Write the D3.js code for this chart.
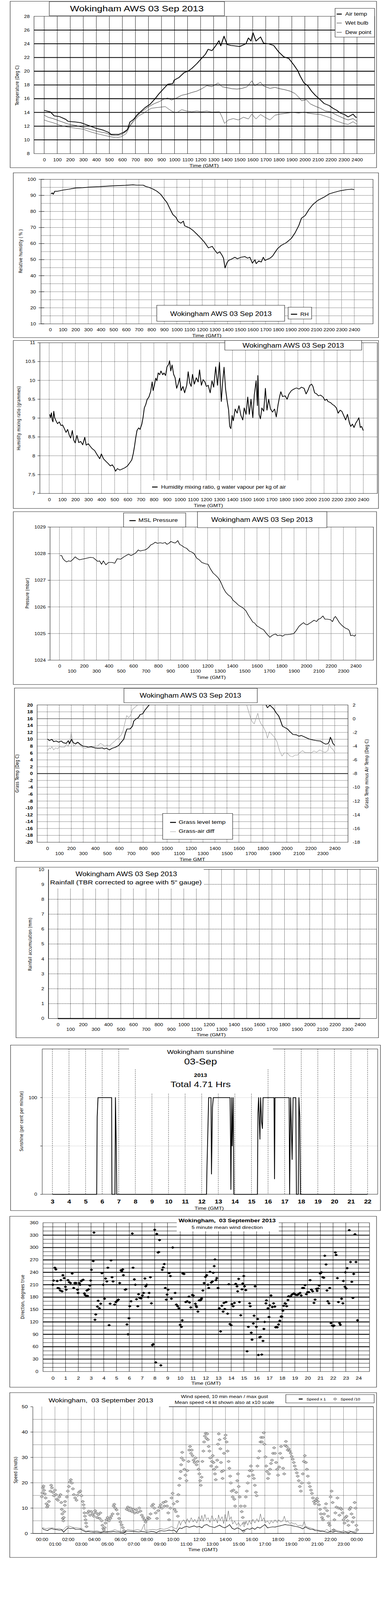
<!DOCTYPE html>
<html>
<head>
<meta charset="utf-8">
<title>Wokingham AWS 03 Sep 2013</title>
<script src="https://cdnjs.cloudflare.com/ajax/libs/d3/7.8.5/d3.min.js"></script>
<style>
html, body { margin: 0; padding: 0; background: #fff; overflow: hidden; }
svg { display: block; }
text { font-family: "Liberation Sans", Arial, sans-serif; fill: #000; }
text.ytitle { font-family: "DejaVu Sans", Verdana, sans-serif; font-size: 12px; }
</style>
</head>
<body>
<svg id="chart"></svg>
<script>
// ---- tick values
var hourHundreds = [0, 100, 200, 300, 400, 500, 600, 700, 800, 900, 1000, 1100, 1200,
    1300, 1400, 1500, 1600, 1700, 1800, 1900, 2000, 2100, 2200, 2300, 2400];
var tempTicks = [8, 10, 12, 14, 16, 18, 20, 22, 24, 26, 28];
var rhTicks = [10, 20, 30, 40, 50, 60, 70, 80, 90, 100];
var rhGrid = [15, 20, 25, 30, 35, 40, 45, 50, 55, 60, 65, 70, 75, 80, 85, 90, 95];
var mixTicks = [7, 7.5, 8, 8.5, 9, 9.5, 10, 10.5, 11];
var pressTicks = [1024, 1025, 1026, 1027, 1028, 1029];
var grassTicks = [-20, -18, -16, -14, -12, -10, -8, -6, -4, -2, 0, 2, 4, 6, 8, 10, 12, 14, 16, 18, 20];
var diffTicks = [-18, -16, -14, -12, -10, -8, -6, -4, -2, 0, 2];
var rainTicks = [0, 1, 2, 3, 4, 5, 6, 7, 8, 9, 10];
var sunHourTicks = [3, 4, 5, 6, 7, 8, 9, 10, 11, 12, 13, 14, 15, 16, 17, 18, 19, 20, 21, 22];
var sunTicks = [0, 50, 100];
var dayHours = [0, 1, 2, 3, 4, 5, 6, 7, 8, 9, 10, 11, 12, 13, 14, 15, 16, 17, 18, 19, 20, 21, 22, 23, 24];
var dirTicks = [0, 30, 60, 90, 120, 150, 180, 210, 240, 270, 300, 330, 360];
var dirMinor = [10, 20, 40, 50, 70, 80, 100, 110, 130, 140, 160, 170, 190, 200, 220, 230, 250, 260, 280, 290, 310, 320, 340, 350];
var speedTicks = [0, 10, 20, 30, 40, 50];
var speedGrid = [5, 10, 15, 20, 25, 30, 35, 40, 45];

// ---- temperatures [time, deg C]
var airTemp = [[0,14.3],[48,14.06],[77,13.5],[116,13.4],[164,13.0],[184,12.7],[242,12.6],[281,12.5],[310,12.3],[339,12.1],
    [397,11.7],[455,11.4],[493,11.1],[513,10.8],[571,10.8],[610,11.1],[639,11.5],[658,12.6],[687,13.0],[716,13.7],[745,14.2],
    [774,14.7],[813,15.2],[851,16.0],[880,16.7],[909,17.3],[948,18.1],[987,18.2],[997,18.7],[1035,19.1],[1074,19.8],[1103,20.0],
    [1132,20.4],[1171,21.1],[1209,21.9],[1238,22.5],[1258,23.2],[1287,23.0],[1316,23.7],[1341,24.45],[1355,23.7],[1380,25.1],
    [1403,23.9],[1432,23.75],[1461,23.7],[1500,23.6],[1548,24.0],[1567,24.85],[1587,24.4],[1602,25.6],[1625,24.4],[1660,25.0],
    [1683,24.1],[1722,24.0],[1761,23.75],[1800,22.8],[1838,22.1],[1877,21.85],[1916,20.9],[1945,20.1],[1964,19.3],[1993,18.3],
    [2022,17.9],[2051,17.1],[2080,16.5],[2109,16.0],[2148,15.3],[2187,15.0],[2216,14.6],[2245,14.3],[2273,13.9],[2303,13.7],
    [2332,13.35],[2370,13.75],[2390,13.3],[2400,13.3]];
var wetBulb = [[0,13.6],[29,13.3],[68,13.1],[126,12.7],[184,12.3],[242,12.1],[300,11.8],[358,11.5],[416,11.2],[474,11.0],
    [513,10.7],[551,10.6],[590,10.75],[629,11.2],[658,12.1],[687,12.9],[716,13.5],[745,14.1],[774,14.45],[803,14.85],[842,15.25],
    [880,15.55],[919,15.95],[948,16.1],[977,15.8],[1016,16.1],[1055,16.5],[1093,16.65],[1132,16.9],[1171,17.1],[1209,17.45],
    [1248,17.9],[1287,17.75],[1335,18.3],[1364,17.75],[1403,17.6],[1442,17.45],[1480,17.4],[1519,17.5],[1558,17.75],[1593,18.6],
    [1616,17.9],[1660,18.4],[1683,17.85],[1732,17.5],[1771,17.65],[1809,17.45],[1848,17.3],[1887,17.1],[1925,16.75],[1954,16.2],
    [1974,15.7],[2012,15.85],[2041,15.25],[2080,14.9],[2119,14.6],[2158,14.2],[2196,14.1],[2235,13.7],[2274,13.35],[2303,13.1],
    [2332,12.9],[2370,13.1],[2400,12.7]];
var dewPoint = [[0,12.9],[29,12.7],[68,12.5],[126,12.1],[184,11.85],[242,11.7],[300,11.55],[358,11.15],[416,10.85],[474,10.6],
    [513,10.45],[551,10.3],[590,10.45],[629,10.9],[658,12.0],[687,12.7],[726,13.5],[764,13.9],[793,14.3],[822,14.6],[861,14.7],
    [909,14.8],[929,14.85],[958,14.45],[987,14.1],[1016,13.95],[1055,14.4],[1093,14.2],[1132,14.1],[1171,14.2],[1209,14.1],
    [1248,14.2],[1287,14.05],[1345,14.1],[1364,13.35],[1384,12.4],[1413,12.9],[1451,13.1],[1490,12.9],[1529,13.3],[1567,13.05],
    [1593,13.75],[1625,13.05],[1660,13.7],[1693,13.3],[1732,12.9],[1771,13.6],[1809,13.75],[1867,13.9],[1906,14.0],[1954,13.9],
    [1993,14.05],[2022,13.9],[2080,13.75],[2119,13.7],[2158,13.45],[2196,13.2],[2235,12.8],[2274,12.55],[2303,12.35],[2332,12.25],
    [2370,12.65],[2400,12.25]];

// ---- relative humidity [time, %]
var relHum = [[6,90.9],[16,91.6],[24,90.7],[36,92.6],[59,92.6],[99,93.3],[149,93.9],[198,94.6],[258,94.8],[317,95.2],[397,95.5],
    [496,96.0],[595,96.3],[654,96.6],[684,96.4],[734,96.4],[754,95.6],[783,94.95],[813,93.9],[843,92.6],[873,90.6],[902,87.5],
    [922,85.5],[942,82.2],[968,78.1],[992,76.4],[1011,73.7],[1031,72.7],[1051,74.0],[1061,71.1],[1081,70.4],[1101,69.7],[1130,68.0],
    [1160,65.7],[1190,63.3],[1220,60.6],[1249,57.3],[1279,58.3],[1299,55.9],[1319,53.9],[1339,54.9],[1358,52.5],[1368,50.9],
    [1380,44.8],[1394,47.8],[1408,49.5],[1428,50.2],[1458,51.5],[1477,50.5],[1507,51.5],[1537,51.9],[1557,50.9],[1576,51.5],
    [1596,47.8],[1616,49.9],[1626,47.5],[1646,49.2],[1666,48.5],[1682,51.5],[1695,49.5],[1715,50.2],[1735,50.9],[1755,52.2],
    [1775,54.6],[1795,56.9],[1824,58.9],[1864,60.6],[1904,63.3],[1933,66.7],[1963,71.4],[1983,75.8],[2013,77.5],[2042,81.2],
    [2072,84.2],[2112,86.9],[2161,88.9],[2201,90.9],[2241,91.9],[2290,92.9],[2340,93.6],[2380,93.9],[2400,93.6]];

// ---- humidity mixing ratio [time, g/kg]
var mixRatio = [[4,9.10],[10,9.01],[17,9.14],[23,8.95],[29,8.90],[35,9.18],[42,9.01],[52,8.93],[64,8.85],[77,8.90],[91,8.80],
    [102,8.82],[116,8.72],[129,8.62],[141,8.70],[154,8.54],[164,8.47],[177,8.67],[187,8.42],[199,8.34],[212,8.54],[226,8.35],
    [241,8.38],[256,8.29],[272,8.49],[283,8.28],[299,8.32],[314,8.25],[328,8.19],[347,8.14],[366,8.03],[386,7.92],[399,8.05],
    [415,7.92],[434,7.85],[449,7.80],[467,7.73],[482,7.76],[496,7.69],[507,7.59],[521,7.66],[540,7.62],[559,7.65],[578,7.68],
    [598,7.73],[617,7.82],[631,7.89],[642,8.05],[652,8.25],[661,8.47],[671,8.67],[684,8.74],[694,8.70],[708,8.84],[717,9.01],
    [727,9.27],[738,9.36],[748,9.49],[762,9.56],[775,9.70],[787,9.96],[794,9.73],[804,9.87],[814,10.06],[823,9.99],[833,10.20],
    [844,10.15],[854,10.25],[868,10.15],[877,10.20],[889,10.13],[900,10.36],[912,10.42],[920,10.52],[929,10.25],[939,10.41],
    [951,10.16],[962,10.07],[974,9.79],[985,9.90],[997,10.06],[1008,9.73],[1022,9.84],[1035,9.67],[1051,9.87],[1062,10.23],
    [1074,9.93],[1085,9.84],[1095,10.16],[1109,9.90],[1124,10.07],[1138,9.96],[1149,10.28],[1163,9.87],[1176,10.02],[1190,9.96],
    [1201,9.84],[1215,9.87],[1230,9.67],[1244,9.99],[1257,9.82],[1272,10.36],[1286,9.87],[1301,10.48],[1315,9.44],[1325,9.93],
    [1336,10.35],[1348,9.76],[1359,9.47],[1371,9.21],[1379,8.78],[1388,8.72],[1398,9.07],[1407,8.93],[1421,9.24],[1436,9.13],
    [1450,9.33],[1465,9.07],[1479,8.95],[1490,9.27],[1504,9.10],[1517,9.56],[1529,9.10],[1542,9.50],[1556,9.01],[1567,9.61],
    [1581,9.99],[1591,9.33],[1594,10.13],[1604,9.10],[1614,8.98],[1625,9.27],[1639,9.18],[1652,9.79],[1664,9.21],[1677,9.50],
    [1691,9.24],[1706,9.16],[1722,9.24],[1735,9.03],[1749,9.36],[1760,9.56],[1770,9.70],[1783,9.57],[1803,9.59],[1818,9.50],
    [1832,9.64],[1851,9.73],[1870,9.77],[1889,9.80],[1909,9.77],[1928,9.82],[1947,9.79],[1963,9.64],[1976,9.73],[1992,9.87],
    [2005,9.90],[2015,9.84],[2028,9.67],[2044,9.64],[2057,9.59],[2073,9.61],[2092,9.56],[2107,9.47],[2121,9.50],[2130,9.44],
    [2150,9.41],[2165,9.36],[2179,9.33],[2194,9.27],[2208,9.13],[2223,9.21],[2236,9.18],[2250,9.07],[2265,8.95],[2279,9.10],
    [2294,8.87],[2304,8.78],[2317,8.84],[2329,8.75],[2343,8.87],[2354,8.93],[2366,9.01],[2377,8.75],[2387,8.78],[2396,8.70],
    [2400,8.67]];

// ---- MSL pressure [time, mbar]
var mslPressure = [[4,1027.93],[18,1027.93],[29,1027.81],[45,1027.73],[59,1027.69],[74,1027.73],[90,1027.71],[106,1027.77],
    [127,1027.88],[141,1027.83],[161,1027.77],[182,1027.79],[202,1027.81],[223,1027.83],[249,1027.86],[274,1027.85],[294,1027.77],
    [311,1027.71],[325,1027.73],[341,1027.60],[356,1027.73],[376,1027.58],[397,1027.67],[427,1027.67],[448,1027.64],[468,1027.81],
    [495,1027.79],[519,1027.87],[540,1027.93],[560,1027.98],[580,1027.93],[601,1027.98],[621,1028.04],[638,1028.14],[654,1028.10],
    [672,1028.12],[693,1028.14],[709,1028.18],[724,1028.24],[740,1028.33],[760,1028.37],[775,1028.43],[795,1028.39],[816,1028.41],
    [836,1028.39],[856,1028.42],[871,1028.35],[887,1028.39],[903,1028.46],[920,1028.42],[938,1028.40],[959,1028.49],[973,1028.35],
    [989,1028.31],[1010,1028.24],[1030,1028.20],[1051,1028.10],[1071,1028.06],[1091,1028.00],[1112,1027.83],[1132,1027.77],
    [1153,1027.67],[1183,1027.62],[1204,1027.60],[1224,1027.42],[1245,1027.27],[1265,1027.19],[1286,1027.09],[1306,1026.94],
    [1327,1026.71],[1347,1026.55],[1367,1026.45],[1388,1026.38],[1408,1026.24],[1429,1026.16],[1449,1026.07],[1470,1026.01],
    [1490,1025.95],[1511,1025.85],[1531,1025.68],[1551,1025.54],[1566,1025.43],[1582,1025.39],[1598,1025.29],[1613,1025.25],
    [1633,1025.19],[1654,1025.14],[1670,1025.04],[1688,1024.94],[1705,1024.86],[1721,1024.92],[1735,1024.96],[1752,1024.98],
    [1766,1024.92],[1786,1024.94],[1807,1024.90],[1827,1024.96],[1848,1024.96],[1868,1024.97],[1899,1025.00],[1919,1025.12],
    [1940,1025.27],[1960,1025.35],[1977,1025.41],[1991,1025.35],[2007,1025.33],[2028,1025.39],[2042,1025.43],[2062,1025.50],
    [2083,1025.45],[2097,1025.54],[2113,1025.56],[2134,1025.66],[2150,1025.54],[2171,1025.54],[2195,1025.52],[2212,1025.45],
    [2226,1025.60],[2236,1025.64],[2253,1025.52],[2267,1025.41],[2287,1025.31],[2308,1025.23],[2322,1025.19],[2338,1025.16],
    [2349,1025.10],[2359,1024.92],[2375,1024.94],[2390,1024.90],[2400,1024.96]];

// ---- grass level temperature [time, deg C] (off the top of the chart around midday)
var grassTemp = [[2,10.1],[17,9.6],[38,10.0],[53,9.3],[74,9.5],[95,9.15],[116,9.5],[133,9.0],[158,8.8],[175,9.6],[185,8.7],
    [202,10.0],[217,9.0],[234,8.7],[255,9.15],[276,8.5],[297,8.0],[322,7.9],[343,7.7],[368,7.8],[396,7.5],[417,7.4],[438,7.4],
    [459,7.5],[474,7.2],[495,7.4],[518,6.9],[543,7.4],[570,7.7],[596,8.2],[617,9.15],[638,10.0],[653,11.9],[665,13.0],[690,13.0],
    [711,13.8],[722,15.3],[743,16.0],[760,16.3],[775,17.2],[796,17.4],[813,18.4],[827,19.0],[848,19.9],[900,22],[1000,26],
    [1200,30],[1400,30],[1600,27],[1750,22],[1827,20.0],[1838,19.2],[1859,19.9],[1869,19.6],[1890,18.9],[1911,17.7],[1932,16.8],
    [1947,15.5],[1964,13.8],[1985,13.4],[2006,13.0],[2027,12.2],[2052,11.4],[2080,11.3],[2101,10.9],[2122,11.1],[2153,10.6],
    [2185,10.1],[2217,9.8],[2248,9.6],[2280,9.5],[2301,9.0],[2323,8.6],[2343,8.7],[2354,9.3],[2364,10.6],[2375,9.8],[2385,8.8],
    [2400,8.2]];
// grass minus air temperature [time, deg C] on the right-hand scale
var grassAirDiff = [[2,-4.65],[17,-4.25],[27,-4.4],[38,-4.08],[53,-4.55],[69,-4.25],[86,-4.4],[101,-4.08],[122,-4.15],[143,-4.15],
    [158,-3.75],[175,-4.0],[187,-3.35],[200,-2.05],[211,-3.43],[221,-4.0],[238,-3.75],[255,-3.5],[269,-3.75],[284,-4.08],[301,-4.25],
    [322,-4.3],[343,-4.15],[368,-4.0],[389,-4.08],[417,-4.0],[444,-3.6],[459,-3.75],[480,-4.0],[501,-3.83],[518,-4.0],[537,-3.65],
    [558,-3.35],[579,-3.0],[600,-2.7],[617,-2.38],[632,-1.8],[648,-0.6],[663,0.45],[680,0.15],[697,0.55],[711,1.35],[733,1.68],
    [754,2.0],[800,3.5],[1200,5],[1600,3.5],[1665,2.0],[1680,1.1],[1697,0.15],[1711,-0.45],[1728,-0.75],[1743,0.05],[1758,0.8],
    [1770,-0.2],[1785,-0.75],[1806,-1.25],[1827,-2.05],[1838,-2.85],[1855,-1.9],[1876,-2.3],[1897,-2.7],[1918,-3.35],[1939,-4.65],
    [1960,-5.45],[1981,-4.95],[2006,-5.05],[2027,-5.45],[2048,-5.55],[2069,-5.3],[2090,-5.3],[2111,-4.9],[2132,-4.65],[2153,-4.95],
    [2175,-4.95],[2206,-4.95],[2227,-4.7],[2248,-4.9],[2275,-4.55],[2301,-4.8],[2322,-4.9],[2343,-4.65],[2354,-3.65],[2364,-4.15],
    [2385,-4.48],[2400,-4.95]];

// ---- rainfall accumulation [time, mm]
var rainfall = [[0,0],[2400,0]];

// ---- sunshine [hour, per cent per minute]
var sunshine = [[3.0,0],[5.67,0],[5.70,80],[5.75,100],[6.57,100],[6.59,0],[6.77,0],[6.80,100],[6.85,50],[6.88,0],[12.29,0],
    [12.32,29],[12.36,57],[12.42,100],[12.56,100],[12.59,21],[12.65,90],[12.70,100],[13.71,100],[13.74,55],[13.76,5],[13.81,100],
    [13.84,50],[13.90,100],[13.94,0],[15.36,0],[15.39,84],[15.43,100],[15.51,57],[15.55,100],[15.61,75],[15.66,68],[15.70,100],
    [16.36,100],[16.39,16],[16.42,100],[17.27,100],[17.30,0],[17.36,100],[17.45,36],[17.51,100],[17.67,100],[17.71,0],[17.82,0],
    [17.86,100],[17.91,80],[17.95,0],[22.0,0]];

// ---- 5 minute mean wind direction [hour, degrees]
var windDir = [[0.00,210],[0.06,220],[0.16,251],[0.24,247],[0.34,219],[0.40,202],[0.50,201],[0.59,196],[0.63,221],[0.73,194],
    [0.79,233],[0.89,226],[0.99,205],[1.05,198],[1.19,221],[1.29,216],[1.39,214],[1.52,237],[1.64,202],[1.72,214],[1.82,214],
    [1.94,198],[1.98,190],[2.08,214],[2.14,210],[2.22,219],[2.28,220],[2.38,222],[2.48,189],[2.53,185],[2.63,183],[2.73,183],
    [2.67,196],[2.77,198],[2.81,199],[2.91,208],[2.97,220],[3.03,246],[3.17,267],[3.23,336],[3.31,125],[3.37,138],[3.50,157],
    [3.56,171],[3.66,153],[3.76,164],[3.86,238],[3.96,210],[4.06,176],[4.14,225],[4.24,218],[4.32,251],[4.42,112],[4.50,164],
    [4.57,269],[4.65,228],[4.73,218],[4.85,162],[4.95,168],[5.05,171],[5.15,174],[5.25,214],[5.35,245],[5.41,243],[5.49,247],
    [5.54,233],[5.68,198],[5.74,199],[5.82,114],[5.90,90],[5.98,129],[6.04,158],[6.14,170],[6.24,334],[6.30,251],[6.40,223],
    [6.48,210],[6.57,175],[6.67,158],[6.73,187],[6.83,178],[6.93,177],[7.03,184],[7.13,190],[7.23,225],[7.29,206],[7.37,210],
    [7.49,180],[7.56,190],[7.66,228],[7.74,165],[7.82,64],[7.88,66],[8.00,343],[8.08,22],[8.16,333],[8.26,288],[8.32,289],
    [8.38,318],[8.48,15],[8.59,246],[8.67,252],[8.75,260],[8.83,202],[8.91,174],[8.97,186],[9.05,198],[9.13,238],[9.23,231],
    [9.31,176],[9.41,300],[9.60,190],[9.70,162],[9.80,158],[9.90,153],[10.0,113],[10.1,108],[10.16,124],[10.2,237],[10.3,236],
    [10.44,168],[10.55,170],[10.69,181],[10.73,167],[10.83,155],[10.95,185],[11.03,184],[11.19,164],[11.25,159],[11.29,156],
    [11.39,145],[11.49,172],[11.58,172],[11.64,174],[11.68,177],[11.78,196],[11.88,214],[11.98,229],[12.08,233],[12.18,210],
    [12.24,202],[12.34,241],[12.44,215],[12.53,218],[12.59,239],[12.67,255],[12.73,271],[12.81,221],[12.87,226],[12.97,202],
    [13.07,153],[13.17,97],[13.27,159],[13.37,145],[13.43,166],[13.50,151],[13.60,168],[13.72,140],[13.82,211],[13.90,115],
    [14.0,112],[14.06,163],[14.16,158],[14.26,166],[14.36,212],[14.46,206],[14.51,194],[14.59,224],[14.65,168],[14.75,136],
    [14.85,199],[14.91,213],[14.99,231],[15.05,206],[15.15,197],[15.25,49],[15.35,108],[15.45,165],[15.50,158],[15.58,94],
    [15.64,77],[15.74,116],[15.80,135],[15.88,206],[15.98,108],[16.08,127],[16.14,40],[16.24,83],[16.30,84],[16.40,41],[16.50,74],
    [16.57,103],[16.63,120],[16.73,165],[16.77,172],[16.89,153],[16.97,132],[17.03,160],[17.13,184],[17.23,156],[17.33,165],
    [17.43,157],[17.49,107],[17.56,108],[17.62,107],[17.72,114],[17.82,123],[17.92,133],[17.98,133],[18.06,147],[18.12,159],
    [18.22,165],[18.28,164],[18.36,158],[18.46,173],[18.51,182],[18.61,181],[18.67,182],[18.77,186],[18.91,189],[19.01,187],
    [19.11,185],[19.21,185],[19.31,188],[19.41,190],[19.50,184],[19.60,202],[19.70,202],[19.80,209],[19.90,187],[20.00,192],
    [20.10,192],[20.20,221],[20.30,198],[20.40,194],[20.50,166],[20.59,174],[20.69,200],[20.75,195],[20.83,201],[20.91,208],
    [20.99,237],[21.09,240],[21.19,228],[21.27,227],[21.35,280],[21.45,259],[21.52,196],[21.58,170],[21.68,165],[21.74,202],
    [21.84,117],[21.94,111],[22.02,110],[22.08,111],[22.18,288],[22.24,282],[22.34,226],[22.42,168],[22.51,117],[22.57,113],
    [22.67,176],[22.77,165],[22.81,219],[22.93,205],[22.97,240],[23.03,201],[23.11,250],[23.27,342],[23.37,265],[23.47,217],
    [23.56,178],[23.62,236],[23.72,332],[23.80,265],[23.92,124]];

// ---- wind speed: diamonds on the /10 scale, mean and gust lines in knots [hour, value]
var speedMarks = [[0.00,14.5],[0.04,16],[0.08,18],[0.12,18.7],[0.17,17],[0.23,15.6],[0.29,14],[0.35,11.7],[0.40,10.4],[0.46,11],
    [0.54,12.6],[0.65,16.7],[0.71,19],[0.77,18],[0.85,16.2],[0.92,14.9],[1.00,17.1],[1.08,15.3],[1.15,13.5],[1.23,13.1],[1.33,14.4],
    [1.42,15.3],[1.48,12.2],[1.52,9.5],[1.56,7.7],[1.60,5.9],[1.64,5],[1.67,6.3],[1.71,8.6],[1.75,11.1],[1.77,12.6],[1.91,14.4],
    [1.98,16.7],[2.06,18.5],[2.14,20.3],[2.21,21.2],[2.29,19.9],[2.37,17.6],[2.44,15.3],[2.54,14],[2.64,13.1],[2.73,15.1],[2.83,16.2],
    [2.93,16.7],[3.02,14.9],[3.12,12.6],[3.18,11.3],[3.21,10],[3.25,8.1],[3.29,6.8],[3.33,5.4],[3.37,4.1],[3.41,2.7],[3.50,8.1],
    [3.58,8.8],[3.68,7.2],[3.77,8.6],[3.89,7.7],[3.96,6.8],[4.06,9],[4.14,8.1],[4.21,6.3],[4.31,7.4],[4.41,5.9],[4.46,8.1],[4.56,5],
    [4.62,3.2],[4.68,2],[4.73,1.4],[4.79,2.3],[4.85,4.1],[4.93,5.4],[5.02,6.3],[5.12,5],[5.22,5.9],[5.29,6.8],[5.39,7.7],[5.47,10.8],
    [5.52,11.5],[5.60,10],[5.70,9.3],[5.79,7.7],[5.89,5.9],[5.99,4.5],[6.08,3.4],[6.18,2.3],[6.27,1.1],[6.35,0],[6.47,9.5],[6.56,10.4],
    [6.66,9],[6.77,10],[6.87,8.6],[6.97,9.5],[7.08,8.1],[7.20,9.3],[7.31,8.3],[7.43,10],[7.52,8.8],[7.62,7.2],[7.72,6.3],[7.81,5.4],
    [7.91,4.5],[8.01,5.4],[8.10,6.3],[8.20,5.9],[8.29,7.7],[8.39,10.8],[8.49,11.5],[8.58,10],[8.68,8.1],[8.78,5.9],[8.87,9],[8.97,10.4],
    [9.06,11.3],[9.16,10],[9.26,12.2],[9.35,10.8],[9.45,12.6],[9.55,10.8],[9.64,8.1],[9.70,5.4],[9.80,10],[9.89,14],[9.97,15.8],
    [10.05,11.7],[10.12,9.5],[10.22,8.6],[10.32,12.6],[10.37,6.8],[10.41,15.3],[10.47,19],[10.53,21.7],[10.59,24.4],[10.62,27.1],
    [10.66,29.8],[10.70,32],[10.80,28.9],[10.87,25.3],[10.95,23],[11.03,20.8],[11.10,24.8],[11.18,28.4],[11.24,32.9],[11.30,34.3],
    [11.37,31.6],[11.43,32.9],[11.49,30.7],[11.57,28.9],[11.64,28],[11.72,29.8],[11.80,27.1],[11.87,28.4],[11.95,25.3],[12.01,23.5],
    [12.07,20.8],[12.12,19],[12.18,22.2],[12.24,28.4],[12.32,32.5],[12.37,36.1],[12.43,38.4],[12.49,39.5],[12.55,37.5],[12.61,39.3],
    [12.66,37],[12.72,34.3],[12.78,32.5],[12.84,29.8],[12.91,26.6],[12.97,28.4],[13.03,30.7],[13.09,28],[13.14,25.3],[13.20,23.5],
    [13.26,21.2],[13.32,26.2],[13.37,28.9],[13.43,35.2],[13.49,39.3],[13.55,37],[13.61,33.4],[13.66,28],[13.72,24.4],[13.78,21.7],
    [13.84,24.8],[13.89,31.6],[13.95,37.5],[14.01,38.8],[14.09,36.1],[14.16,32.5],[14.24,28.4],[14.30,25.7],[14.36,22.6],[14.41,19.9],
    [14.47,16.7],[14.55,14.4],[14.61,17.1],[14.67,13.5],[14.74,10.8],[14.82,16.2],[14.90,20.8],[14.95,23.5],[15.01,18.5],[15.09,14.4],
    [15.17,10.8],[15.24,8.6],[15.32,6.3],[15.38,0.9],[15.42,4.1],[15.47,10.8],[15.55,14.4],[15.63,16.7],[15.70,19.9],[15.78,22.6],
    [15.86,24.8],[15.94,26.6],[16.01,24.8],[16.09,23],[16.17,21.7],[16.24,19],[16.32,16.2],[16.38,14.9],[16.44,26.6],[16.51,29.8],
    [16.59,32.5],[16.67,36.1],[16.72,37.9],[16.78,36.1],[16.86,37.9],[16.92,39.7],[16.97,35.2],[17.05,30.2],[17.11,26.6],[17.17,24.4],
    [17.24,21.7],[17.32,23.5],[17.40,25.3],[17.47,27.6],[17.55,28.9],[17.63,31.6],[17.71,33.8],[17.78,31.6],[17.86,28],[17.94,25.3],
    [18.01,23],[18.09,26.2],[18.17,31.6],[18.24,34.3],[18.32,29.8],[18.40,25.7],[18.48,23.5],[18.55,34.7],[18.61,36.3],[18.67,34.3],
    [18.75,32.9],[18.82,33.4],[18.90,32.5],[18.98,31.6],[19.05,30.4],[19.13,29.3],[19.21,28],[19.28,26.6],[19.36,25.3],[19.44,23.9],
    [19.51,22.6],[19.59,20.8],[19.67,18.5],[19.75,16.7],[19.82,19.9],[19.90,23.5],[19.98,28.4],[20.05,30.7],[20.13,28],[20.21,25.3],
    [20.28,22.6],[20.36,19.9],[20.44,18.5],[20.52,17.1],[20.59,15.8],[20.67,14],[20.75,12.6],[20.82,11.7],[20.90,13.1],[20.98,13.8],
    [21.05,12.6],[21.13,11.3],[21.21,9.5],[21.28,7.7],[21.36,6.3],[21.44,5.4],[21.52,7.7],[21.59,10],[21.67,11.7],[21.75,9],[21.82,6.8],
    [21.88,4.1],[21.94,3.2],[22.02,14.4],[22.09,16.7],[22.17,12.2],[22.25,1.4],[22.31,5.4],[22.38,8.1],[22.46,10.4],[22.54,14],
    [22.61,10],[22.69,7.2],[22.77,10],[22.84,9.5],[22.92,8.1],[23.00,5.4],[23.08,4.1],[23.15,6.3],[23.23,6.8],[23.31,5],[23.38,3.2],
    [23.46,9.5],[23.54,10.2],[23.61,7.7],[23.69,4.5],[23.77,6.3],[23.85,12.2],[23.92,10],[23.98,3.2],[24.04,1.4]];
var speedMean = [[0.04,2.1],[0.12,1.6],[0.27,1.4],[0.42,1.1],[0.56,1.6],[0.75,1.9],[0.94,1.6],[1.14,1.5],[1.33,1.35],[1.52,1.4],
    [1.66,0.5],[1.81,1.35],[2.00,2.2],[2.19,1.9],[2.39,2.1],[2.58,1.6],[2.77,1.6],[2.96,1.7],[3.16,1.1],[3.35,0.6],[3.54,0.8],
    [3.73,0.6],[3.93,0.5],[4.12,0.6],[4.31,0.5],[4.50,0.3],[4.70,0.6],[4.89,0.5],[5.08,0.6],[5.27,0.6],[5.47,0.8],[5.66,0.6],
    [5.85,0.6],[6.04,0.4],[6.24,0.2],[6.43,0.9],[6.62,0.9],[6.81,0.8],[7.01,0.8],[7.20,0.7],[7.39,0.6],[7.58,0.8],[7.78,0.7],
    [7.97,0.5],[8.16,0.6],[8.35,0.8],[8.55,0.7],[8.74,0.3],[8.93,0.9],[9.12,1.1],[9.31,0.9],[9.51,1.05],[9.70,1.35],[9.89,1.1],
    [10.08,1.35],[10.28,0.4],[10.37,1.35],[10.51,2.2],[10.66,1.9],[10.85,2.5],[11.05,2.8],[11.24,2.4],[11.43,2.7],[11.62,3.0],
    [11.82,2.5],[12.01,2.8],[12.20,2.2],[12.39,3.25],[12.59,3.5],[12.78,2.8],[12.97,2.6],[13.16,2.3],[13.36,2.8],[13.55,3.3],
    [13.74,2.6],[13.93,2.2],[14.13,2.7],[14.32,3.5],[14.51,2.0],[14.70,1.6],[14.90,2.2],[15.09,1.8],[15.28,1.1],[15.47,1.35],
    [15.67,1.9],[15.86,1.6],[16.05,2.2],[16.24,1.6],[16.44,2.5],[16.63,2.1],[16.82,2.8],[17.01,3.5],[17.21,2.2],[17.40,2.4],
    [17.59,2.6],[17.78,2.5],[17.98,2.8],[18.17,3.0],[18.36,3.25],[18.55,3.5],[18.75,3.3],[18.94,3.25],[19.13,3.0],[19.32,2.8],
    [19.51,2.6],[19.71,2.3],[19.90,1.8],[20.09,2.6],[20.28,2.0],[20.48,1.6],[20.67,1.6],[20.86,1.1],[21.05,1.05],[21.25,0.8],
    [21.44,0.9],[21.63,0.6],[21.82,0.4],[22.02,0.8],[22.21,0.5],[22.40,0.9],[22.59,0.6],[22.79,0.5],[22.98,0.4],[23.17,0.6],
    [23.36,0.2],[23.56,0.8],[23.75,0.4],[23.94,0.2]];
var speedGust = [[0.04,2.3],[0.27,1.9],[0.56,2.1],[0.85,2.2],[1.04,1.8],[1.33,2.0],[1.62,1.35],[1.85,2.6],[2.10,2.9],[2.29,2.5],
    [2.48,2.3],[2.77,2.1],[3.06,2.0],[3.35,0.9],[3.64,1.1],[3.93,0.9],[4.21,1.05],[4.50,0.6],[4.79,0.9],[5.08,0.8],[5.37,1.1],
    [5.56,1.5],[5.75,1.1],[6.04,0.8],[6.33,0.5],[6.52,1.6],[6.72,1.35],[7.01,1.2],[7.29,1.5],[7.58,1.1],[7.81,3.7],[7.87,1.2],
    [8.16,1.35],[8.45,1.6],[8.74,1.35],[9.03,1.9],[9.31,1.6],[9.60,2.0],[9.89,2.8],[10.08,2.1],[10.28,1.8],[10.47,4.9],[10.57,3.25],
    [10.66,4.5],[10.82,5.4],[10.95,3.9],[11.09,5.8],[11.24,4.3],[11.39,6.2],[11.53,4.5],[11.66,5.6],[11.82,4.1],[11.97,6.6],
    [12.11,4.9],[12.20,7.1],[12.30,4.7],[12.43,7.5],[12.55,5.4],[12.68,6.2],[12.82,4.3],[12.97,7.0],[13.13,4.9],[13.26,6.0],
    [13.39,4.1],[13.47,7.3],[13.59,5.1],[13.74,6.6],[13.86,3.9],[13.97,7.5],[14.09,4.7],[14.22,8.9],[14.32,5.4],[14.43,6.6],
    [14.55,3.7],[14.70,4.9],[14.86,3.25],[14.99,4.3],[15.13,2.8],[15.28,3.9],[15.43,2.6],[15.57,4.9],[15.70,3.25],[15.82,5.1],
    [15.95,3.7],[16.09,5.6],[16.24,4.1],[16.40,5.8],[16.53,4.5],[16.67,7.7],[16.78,4.9],[16.92,6.2],[17.05,4.3],[17.21,4.9],
    [17.36,3.7],[17.49,5.1],[17.63,4.1],[17.78,5.4],[17.94,4.3],[18.07,5.4],[18.21,4.5],[18.36,4.9],[18.49,6.8],[18.61,4.5],
    [18.75,4.9],[18.90,3.9],[19.03,4.3],[19.23,3.7],[19.36,3.9],[19.51,3.0],[19.71,3.25],[19.86,2.8],[20.00,4.7],[20.13,2.8],
    [20.32,2.4],[20.57,2.0],[20.82,1.6],[21.05,1.35],[21.29,1.1],[21.54,0.9],[21.73,1.6],[21.92,0.8],[22.11,1.35],[22.36,1.35],
    [22.59,1.05],[22.83,0.7],[23.02,1.1],[23.21,0.6],[23.46,1.1],[23.65,0.6],[23.90,0.9],[23.98,0.4]];

// ------------------------------------------------------------------
// The drawing is laid out on a 1000 x 5000 canvas and squeezed into whatever height the window really has.
var viewH = window.innerHeight > 0 ? Math.min(window.innerHeight, 5000) : 5000;
var svg = d3.select('#chart').attr('width', 1000).attr('height', viewH)
    .attr('viewBox', '0 0 1000 5000').attr('preserveAspectRatio', 'none');
var DIAMOND = 'M0,-4L4.5,0L0,4L-4.5,0Z';

function box(x0, y0, x1, y1, sw) {
    return svg.append('rect').attr('x', x0).attr('y', y0).attr('width', x1 - x0).attr('height', y1 - y0)
        .attr('fill', '#fff').attr('stroke', sw === 0 ? 'none' : '#000').attr('stroke-width', sw || 1);
}
function seg(x0, y0, x1, y1, sw) {
    svg.append('line').attr('x1', x0).attr('y1', y0).attr('x2', x1).attr('y2', y1)
        .attr('stroke', '#000').attr('stroke-width', sw || 1);
}
function label(x, y, txt, size, anchor, weight) {
    return svg.append('text').attr('x', x).attr('y', y).attr('font-size', size)
        .attr('text-anchor', anchor || 'middle').attr('font-weight', weight || 'normal').text(txt);
}
function yTitle(x, cy, txt) {
    svg.append('text').attr('class', 'ytitle').attr('transform', 'translate(' + x + ',' + cy + ') rotate(-90)')
        .attr('text-anchor', 'middle').attr('dy', '0.35em').text(txt);
}
function hGrid(x, y, vals, sw, dash, color) {
    svg.append('g').selectAll('line').data(vals).join('line')
        .attr('x1', x.range()[0]).attr('x2', x.range()[1])
        .attr('y1', function (d) { return y(d); }).attr('y2', function (d) { return y(d); })
        .attr('stroke', color || '#000').attr('stroke-width', sw).attr('stroke-dasharray', dash || null);
}
function vGrid(x, y, vals, sw, dash, color, top) {
    svg.append('g').selectAll('line').data(vals).join('line')
        .attr('x1', function (d) { return x(d); }).attr('x2', function (d) { return x(d); })
        .attr('y1', function (d) { return top ? top(d) : y.range()[1]; }).attr('y2', y.range()[0])
        .attr('stroke', color || '#000').attr('stroke-width', sw).attr('stroke-dasharray', dash || null);
}
function yTicks(x0, y, vals, out, inside) {
    svg.append('g').selectAll('line').data(vals).join('line')
        .attr('x1', x0 - out).attr('x2', x0 + (inside || 0))
        .attr('y1', function (d) { return y(d); }).attr('y2', function (d) { return y(d); })
        .attr('stroke', '#000');
}
function leftAxis(x0, y, vals, pad, opts) {
    opts = opts || {};
    var ax = d3.axisLeft(y).tickValues(vals).tickSize(0).tickPadding(pad)
        .tickFormat(opts.fmt || function (d) { return d; });
    var g = svg.append('g').attr('transform', 'translate(' + x0 + ',0)').call(ax);
    g.select('.domain').remove();
    g.attr('font-size', opts.size || 13).attr('font-weight', opts.weight || null);
    return g;
}
function rightAxis(x0, y, vals, pad) {
    var g = svg.append('g').attr('transform', 'translate(' + x0 + ',0)')
        .call(d3.axisRight(y).tickValues(vals).tickSize(0).tickPadding(pad).tickFormat(function (d) { return d; }));
    g.select('.domain').remove();
    g.attr('font-size', 13);
    return g;
}
function bottomAxis(y0, x, vals, pad, opts) {
    opts = opts || {};
    var ax = d3.axisBottom(x).tickValues(vals).tickSize(0).tickPadding(pad)
        .tickFormat(opts.fmt || function (d) { return d; });
    var g = svg.append('g').attr('transform', 'translate(0,' + y0 + ')').call(ax);
    g.select('.domain').remove();
    g.attr('font-size', opts.size || 13).attr('font-weight', opts.weight || null);
    if (opts.stagger) {
        g.selectAll('.tick text').attr('y', function (d, i) { return i % 2 ? pad + opts.stagger : pad; });
    }
    return g;
}
function series(x, y, data, color, width, clip) {
    var line = d3.line().x(function (d) { return x(d[0]); }).y(function (d) { return y(d[1]); });
    var p = svg.append('path').datum(data).attr('d', line).attr('fill', 'none')
        .attr('stroke', color).attr('stroke-width', width).attr('stroke-linejoin', 'round');
    if (clip) p.attr('clip-path', 'url(#' + clip + ')');
    return p;
}
function legendLine(x0, x1, yy, color, width) {
    svg.append('line').attr('x1', x0).attr('x2', x1).attr('y1', yy).attr('y2', yy)
        .attr('stroke', color).attr('stroke-width', width);
}

svg.append('rect').attr('width', 1000).attr('height', 5000).attr('fill', '#fff');

// ---- 1. Temperature
(function () {
    box(26, 4, 963, 524);
    var x = d3.scaleLinear().domain([-78, 2535]).range([87, 958]);
    var y = d3.scaleLinear().domain([8, 28]).range([480, 51]);
    box(87, 51, 958, 480);
    vGrid(x, y, hourHundreds, 1);
    hGrid(x, y, [10, 12, 14, 16, 18, 20, 22, 24, 26], 2.5);
    leftAxis(87, y, tempTicks, 11);
    bottomAxis(480, x, hourHundreds, 14.5);
    series(x, y, dewPoint, '#222', 1);
    series(x, y, wetBulb, '#000', 1);
    series(x, y, airTemp, '#000', 2.2);
    box(126, 5, 574, 49);
    label(350, 36, 'Wokingham AWS 03 Sep 2013', 25);
    box(857, 26, 958, 116);
    legendLine(861, 874, 44, '#000', 3);
    legendLine(861, 874, 72, '#000', 1);
    legendLine(861, 874, 101, '#000', 1);
    label(883, 49, 'Air temp', 15, 'start');
    label(883, 77, 'Wet bulb', 15, 'start');
    label(883, 106, 'Dew point', 15, 'start');
    label(522, 522, 'Time (GMT)', 14);
    yTitle(44, 267, 'Temperature (Deg C)');
})();

// ---- 2. Relative humidity
(function () {
    box(34, 540, 968, 1055);
    var x = d3.scaleLinear().domain([-72, 2548]).range([105, 954]);
    var y = d3.scaleLinear().domain([10, 100]).range([1012, 560.5]);
    box(105, 560.5, 954, 1012);
    vGrid(x, y, hourHundreds, 1, '1,1');
    hGrid(x, y, rhGrid, 1, '1,1');
    yTicks(105, y, rhTicks, 6, 8);
    leftAxis(105, y, rhTicks, 13);
    bottomAxis(1012, x, hourHundreds, 14.5);
    series(x, y, relHum, '#000', 2);
    box(401, 954, 728, 1004);
    label(565, 987, 'Wokingham AWS 03 Sep 2013', 19);
    box(737, 960, 797, 997);
    legendLine(744, 760, 982, '#000', 3);
    label(768, 987, 'RH', 15, 'start');
    label(529, 1053, 'Time (GMT)', 14);
    yTitle(53, 785, 'Relative humidity ( % )');
})();

// ---- 3. Humidity mixing ratio
(function () {
    box(34, 1064, 968, 1589);
    var x = d3.scaleLinear().domain([-71, 2507]).range([102, 965]);
    var y = d3.scaleLinear().domain([7, 11]).range([1542, 1071]);
    box(102, 1071, 965, 1542);
    vGrid(x, y, hourHundreds, 1, '1,1');
    hGrid(x, y, [7.5, 8, 8.5, 9, 9.5, 10, 10.5], 1, '1,1');
    yTicks(102, y, mixTicks, 6, 0);
    leftAxis(102, y, mixTicks, 12);
    bottomAxis(1542, x, hourHundreds, 14.5);
    svg.append('rect').attr('x', 387).attr('y', 1501).attr('width', 394).attr('height', 40).attr('fill', '#fff');
    series(x, y, mixRatio, '#000', 2);
    legendLine(389, 403, 1522, '#000', 3);
    label(412, 1527, 'Humidity mixing ratio, g water vapour per kg of air', 14.5, 'start');
    box(575, 1064, 925, 1094);
    label(750, 1086, 'Wokingham AWS 03 Sep 2013', 19);
    label(533, 1584, 'Time (GMT)', 14);
    yTitle(48, 1307, 'Humidity mixing ratio (grammes)');
})();

// ---- 4. MSL pressure
(function () {
    box(34, 1599, 963, 2139);
    var x = d3.scaleLinear().domain([-76, 2543]).range([128, 955]);
    var y = d3.scaleLinear().domain([1024, 1029]).range([2063, 1647]);
    box(128, 1647, 955, 2063);
    vGrid(x, y, hourHundreds, 1, '1,1');
    hGrid(x, y, [1025, 1026, 1027, 1028], 1, '1,1');
    yTicks(128, y, pressTicks, 6, 0);
    leftAxis(128, y, pressTicks, 11);
    bottomAxis(2063, x, hourHundreds, 14.5, { stagger: 15 });
    series(x, y, mslPressure, '#000', 1.6);
    box(316, 1603, 475, 1647);
    legendLine(331, 347, 1627, '#000', 3);
    label(354, 1631, 'MSL Pressure', 16, 'start');
    box(505, 1599, 836, 1649);
    label(670, 1631, 'Wokingham AWS 03 Sep 2013', 19);
    label(540, 2121, 'Time (GMT)', 14);
    yTitle(70, 1854, 'Pressure (mbar)');
})();

// ---- 5. Grass temperature
(function () {
    box(37, 2150, 966, 2692);
    var x = d3.scaleLinear().domain([-85, 2511]).range([95, 890]);
    var y = d3.scaleLinear().domain([-20, 20]).range([2632, 2203]);
    var yr = d3.scaleLinear().domain([-18, 2]).range([2632, 2203]);
    svg.append('defs').append('clipPath').attr('id', 'grassClip')
        .append('rect').attr('x', 95).attr('y', 2203).attr('width', 795).attr('height', 429);
    box(95, 2203, 890, 2632);
    vGrid(x, y, hourHundreds, 1, '1,1');
    hGrid(x, y, grassTicks.filter(function (d) { return d > -20 && d < 20 && d !== 0 && d !== 16; }), 1, '1,1');
    hGrid(x, y, [0], 2);
    hGrid(x, y, [16], 1);
    leftAxis(95, y, grassTicks, 11, { weight: 'bold' });
    rightAxis(890, yr, diffTicks, 12);
    bottomAxis(2632, x, hourHundreds, 14.5, { stagger: 16 });
    series(x, yr, grassAirDiff, '#999', 1.2, 'grassClip');
    series(x, y, grassTemp, '#000', 2, 'grassClip');
    box(317, 2151, 658, 2196);
    label(487, 2180, 'Wokingham AWS 03 Sep 2013', 19);
    box(416, 2542, 595, 2623);
    legendLine(435, 450, 2570, '#000', 3);
    legendLine(435, 450, 2599, '#999', 1.2);
    label(457, 2574, 'Grass level temp', 16, 'start');
    label(457, 2603, 'Grass-air diff', 16, 'start');
    label(492, 2690, 'Time GMT', 14);
    yTitle(44, 2417, 'Grass Temp (Deg C)');
    yTitle(938, 2418, 'Grass Temp minus Air Temp (Deg C)');
})();

// ---- 6. Rainfall
(function () {
    box(41, 2710, 968, 3243);
    var x = d3.scaleLinear().domain([-74.5, 2531]).range([124, 963]);
    var y = d3.scaleLinear().domain([0, 10]).range([3183, 2717]);
    vGrid(x, y, hourHundreds, 1, '2,1.5');
    hGrid(x, y, [1, 2, 3, 4, 5, 6, 7, 8, 9], 1, '2,1.5');
    svg.append('rect').attr('x', 125).attr('y', 2716).attr('width', 396).attr('height', 61).attr('fill', '#fff');
    seg(124, 2717, 124, 3183, 1.5);
    seg(124, 3183, 963, 3183, 1);
    seg(963, 2717, 963, 3183, 1);
    seg(521, 2717, 963, 2717, 1);
    leftAxis(124, y, rainTicks, 11);
    bottomAxis(3183, x, hourHundreds, 14.5, { stagger: 15 });
    series(x, y, rainfall, '#000', 3);
    label(323, 2738, 'Wokingham AWS 03 Sep 2013', 19);
    label(322, 2764, 'Rainfall (TBR corrected to agree with 5" gauge)', 18.5);
    label(540, 3239, 'Time (GMT)', 14);
    yTitle(77, 2951, 'Rainfall accumulation (mm)');
})();

// ---- 7. Sunshine
(function () {
    box(27, 3266, 973, 3783);
    var x = d3.scaleLinear().domain([2.387, 22.61]).range([108, 966]);
    var y = d3.scaleLinear().domain([0, 150]).range([3732.5, 3278.7]);
    hGrid(x, y, [50, 100], 1, '1,1', '#aaa');
    vGrid(x, y, sunHourTicks, 1, '3,3', '#000', function (d) {
        return d >= 9 && d <= 15 ? 3418 : (d === 8 || d === 16 ? 3342 : 3278);
    });
    seg(108, 3278, 108, 3732, 1);
    seg(108, 3732, 966, 3732, 1);
    seg(966, 3278, 966, 3732, 1);
    seg(108, 3278, 330, 3278, 1);
    seg(698, 3278, 966, 3278, 1);
    yTicks(108, y, sunTicks, 5, 0);
    leftAxis(108, y, sunTicks, 13, { fmt: function (d) { return d === 50 ? '' : d; } });
    bottomAxis(3732, x, sunHourTicks, 16.5, { size: 17, weight: 'bold' });
    series(x, y, sunshine, '#000', 2);
    label(513, 3293, 'Wokingham sunshine', 18);
    label(513, 3327, '03-Sep', 26);
    label(513, 3365, '2013', 15, 'middle', 'bold');
    label(513, 3397, 'Total 4.71 Hrs', 25);
    label(535, 3781, 'Time (GMT)', 14);
    yTitle(55, 3504, 'Sunshine (per cent per minute)');
})();

// ---- 8. Wind direction
(function () {
    box(25, 3801, 963, 4335);
    var x = d3.scaleLinear().domain([-0.77, 24.86]).range([110, 945]);
    var y = d3.scaleLinear().domain([0, 360]).range([4286, 3821]);
    box(110, 3821, 945, 4286);
    vGrid(x, y, dayHours, 1);
    hGrid(x, y, dirMinor, 1);
    hGrid(x, y, [30, 60, 90, 120, 150, 180, 210, 240, 270, 300, 330], 2.5);
    leftAxis(110, y, dirTicks, 12);
    bottomAxis(4286, x, dayHours, 15.5, { size: 14 });
    svg.append('rect').attr('x', 452).attr('y', 3805).attr('width', 261).attr('height', 43).attr('fill', '#fff');
    label(581, 3820, 'Wokingham,  03 September 2013', 16, 'middle', 'bold').attr('xml:space', 'preserve');
    label(581, 3840, '5 minute mean wind direction', 14);
    svg.append('g').selectAll('path').data(windDir).join('path')
        .attr('d', DIAMOND)
        .attr('transform', function (d) { return 'translate(' + x(d[0]) + ',' + y(d[1]) + ')'; })
        .attr('fill', '#000');
    label(527, 4327, 'Time (GMT)', 14);
    yTitle(58, 4053, 'Direction, degrees true');
})();

// ---- 9. Wind speed
(function () {
    box(25, 4352, 963, 4867);
    var x = d3.scaleLinear().domain([-0.686, 25.28]).range([84, 955]);
    var y = d3.scaleLinear().domain([0, 50]).range([4792, 4396]);
    vGrid(x, y, dayHours, 1, '1,1');
    hGrid(x, y, speedGrid, 1, '1,1');
    seg(84, 4396, 84, 4792, 1);
    seg(84, 4792, 955, 4792, 1.5);
    seg(955, 4396, 955, 4792, 1);
    seg(432, 4396, 955, 4396, 1.5);
    yTicks(84, y, speedTicks, 6, 0);
    leftAxis(84, y, speedTicks, 13, { size: 14 });
    bottomAxis(4792, x, dayHours, 14.6, {
        size: 12.5, stagger: 15,
        fmt: function (d) { var h = d % 24; return (h < 10 ? '0' : '') + h + ':00'; }
    });
    svg.append('g').selectAll('path').data(speedMarks).join('path')
        .attr('d', DIAMOND)
        .attr('transform', function (d) { return 'translate(' + x(d[0]) + ',' + y(d[1]) + ')'; })
        .attr('fill', '#c4c4c4').attr('stroke', '#3a3a3a').attr('stroke-width', 0.8);
    series(x, y, speedGust, '#555', 1);
    series(x, y, speedMean, '#000', 1.4);
    label(258, 4382, 'Wokingham,  03 September 2013', 18).attr('xml:space', 'preserve');
    label(574, 4369, 'Wind speed, 10 min mean / max gust', 13.5);
    label(574, 4387, 'Mean speed <4 kt shown also at x10 scale', 13.5);
    box(731, 4358, 957, 4384);
    legendLine(764, 774, 4372, '#000', 3);
    label(784, 4376, 'Speed x 1', 11, 'start');
    svg.append('path').attr('d', DIAMOND).attr('transform', 'translate(857,4372)')
        .attr('fill', '#c4c4c4').attr('stroke', '#3a3a3a').attr('stroke-width', 0.8);
    label(871, 4376, 'Speed /10', 11, 'start');
    label(519, 4847, 'Time (GMT)', 14);
    yTitle(40, 4594, 'Speed (knots)');
})();
</script>
</body>
</html>
